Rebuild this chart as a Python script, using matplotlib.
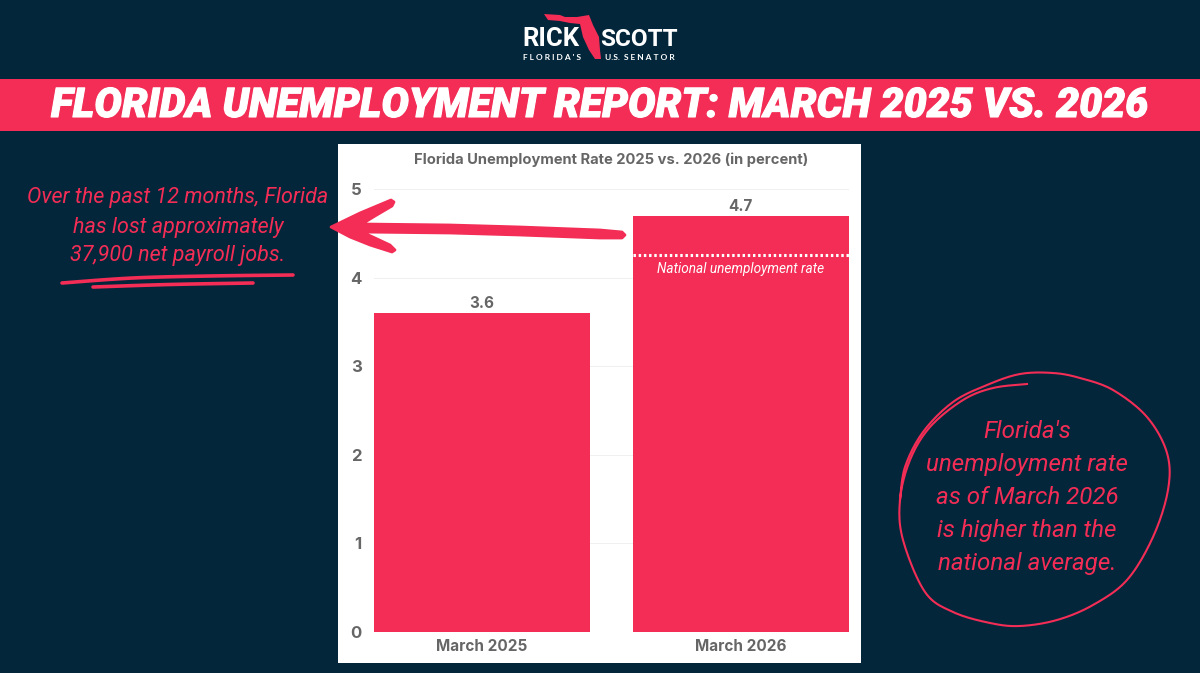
import numpy as np
import matplotlib
matplotlib.use("Agg")
import matplotlib.pyplot as plt
import matplotlib.patheffects as pe
from matplotlib.patches import Polygon

W, H = 1200, 673

months = ["March 2025", "March 2026"]
rates = [3.6, 4.7]
national_rate = 4.26
y_ticks = [0, 1, 2, 3, 4, 5]

NAVY = "#03263b"
RED = "#f32d55"
GREY = "#666666"
CHART_FONT = "Inter"
HAND_FONT = "Roboto"


def smooth(points, n=12):
    ###Catmull-Rom through the hand drawn control points
    pts = np.array(points, dtype=float)
    pts = np.vstack([pts[0], pts, pts[-1]])
    out = []
    for i in range(1, len(pts) - 2):
        p0, p1, p2, p3 = pts[i - 1], pts[i], pts[i + 1], pts[i + 2]
        for t in np.linspace(0, 1, n, endpoint=False):
            out.append(0.5 * (2 * p1 + (p2 - p0) * t + (2 * p0 - 5 * p1 + 4 * p2 - p3) * t ** 2
                              + (3 * p1 - p0 - 3 * p2 + p3) * t ** 3))
    out.append(pts[-2])
    return np.array(out)


fig = plt.figure(figsize=(W / 100, H / 100), dpi=100, facecolor=NAVY)

###Overlay in pixel coordinates for the poster parts
bg = fig.add_axes([0, 0, 1, 1])
bg.set_xlim(0, W)
bg.set_ylim(H, 0)
bg.axis("off")

###Title band
bg.fill_between([0, W], 79, 131, color=RED, lw=0)
title = bg.text(600, 106, "FLORIDA UNEMPLOYMENT REPORT: MARCH 2025 VS. 2026", color="white",
                family="Roboto", weight="black", style="italic", fontsize=29.5, ha="center", va="center")
title.set_path_effects([pe.withStroke(linewidth=0.8, foreground="white")])

###White panel behind the chart
bg.fill_between([338, 861], 144, 663, color="white", lw=0)
bg.text(611, 160, "Florida Unemployment Rate 2025 vs. 2026 (in percent)", color=GREY,
        family=CHART_FONT, weight="bold", fontsize=10.6, ha="center", va="center")

###Logo
bg.text(580, 39, "RICK", color="white", family="Roboto", weight="bold",
        fontsize=18.5, ha="right", va="center")
bg.text(600, 39, "SCOTT", color="white", family="Roboto", weight="bold",
        fontsize=17.5, ha="left", va="center")
bg.text(523, 58, "F L O R I D A ' S", color="white", family="Lato", weight="bold",
        fontsize=6, ha="left", va="center")
bg.text(605, 58, "U.S.  S E N A T O R", color="white", family="Lato", weight="bold",
        fontsize=6, ha="left", va="center")
florida = [(544, 14), (560, 15), (565, 17), (577, 17), (589, 15), (593, 25), (599, 37), (600, 50),
           (601, 59), (595, 59), (589, 50), (583, 37), (580, 24), (570, 23), (560, 21), (548, 20), (546, 17)]
bg.add_patch(Polygon(florida, closed=True, color=RED, lw=0, zorder=3))

###Bar chart
ax = fig.add_axes([374 / W, 1 - 632 / H, 475 / W, 443 / H])
ax.patch.set_alpha(0)
ax.bar(months, rates, width=0.836, color=RED, zorder=2)
ax.set_xlim(-0.418, 1.418)
ax.set_ylim(0, 5)
ax.set_yticks(y_ticks)
ax.yaxis.grid(True, color="#f0f0f0", lw=0.7, zorder=0)
ax.tick_params(length=0, labelcolor=GREY)
ax.tick_params(axis="y", pad=9)
ax.tick_params(axis="x", pad=5)
for t in ax.get_xticklabels() + ax.get_yticklabels():
    t.set_family(CHART_FONT)
    t.set_weight("bold")
    t.set_fontsize(11)
for t in ax.get_yticklabels():
    t.set_fontsize(12)
for s in ax.spines.values():
    s.set_visible(False)
for i, r in enumerate(rates):
    ax.text(i, r + 0.02, f"{r:.1f}", color=GREY, family=CHART_FONT, weight="bold",
            fontsize=11, ha="center", va="bottom")
ax.plot([1 - 0.418, 1 + 0.418], [national_rate, national_rate], color="white", lw=2.2,
        ls=(0, (0.8, 0.9)), zorder=3)
ax.text(1, national_rate - 0.08, "National unemployment rate", color="white", family=HAND_FONT,
        style="italic", fontsize=9.8, ha="center", va="top", zorder=3)

###Notes on top of the chart
top = fig.add_axes([0, 0, 1, 1])
top.set_xlim(0, W)
top.set_ylim(H, 0)
top.axis("off")
top.patch.set_alpha(0)

note_lines = ["Over the past 12 months, Florida", "has lost approximately", "37,900 net payroll jobs."]
for i, line in enumerate(note_lines):
    top.text(178, 198 + i * 29, line, color=RED, family=HAND_FONT, style="italic",
             fontsize=15.5, ha="center", va="center")

###Hand drawn arrow
arrow = [(331, 227), (360, 213), (391, 200), (394, 202), (392, 206), (375, 216), (362, 224), (450, 225),
         (520, 227), (600, 230), (622, 232), (625, 235), (622, 238), (600, 238), (520, 235), (450, 233),
         (362, 232), (375, 238), (390, 245), (395, 250), (392, 252), (370, 245), (350, 237)]
top.add_patch(Polygon(arrow, closed=True, facecolor=RED, edgecolor=RED, lw=2, joinstyle="round"))

###Underline strokes
line1 = smooth([(62, 283), (133, 278), (210, 276), (293, 275)])
line2 = smooth([(93, 287), (170, 284.5), (253, 283)])
top.plot(line1[:, 0], line1[:, 1], color=RED, lw=2.6, solid_capstyle="round")
top.plot(line2[:, 0], line2[:, 1], color=RED, lw=2.6, solid_capstyle="round")

###Circled note
ring = smooth([(1027, 384), (993, 388), (963, 400), (930, 427), (910, 460), (900, 500), (903, 540), (925, 592),
               (953, 612), (990, 623), (1020, 626), (1057, 620), (1093, 605), (1127, 580), (1153, 537),
               (1168, 490), (1167, 453), (1147, 417), (1113, 390), (1080, 378), (1053, 373), (1020, 374),
               (987, 385), (953, 402), (923, 432), (905, 467), (900, 500)])
top.plot(ring[:, 0], ring[:, 1], color=RED, lw=1.5)

circle_note = ["Florida's", "unemployment rate", "as of March 2026", "is higher than the", "national average."]
for i, line in enumerate(circle_note):
    top.text(1027, 431 + i * 33.2, line, color=RED, family=HAND_FONT, style="italic",
             fontsize=17.4, ha="center", va="center")

fig.savefig("out.png", dpi=100, facecolor=NAVY)
